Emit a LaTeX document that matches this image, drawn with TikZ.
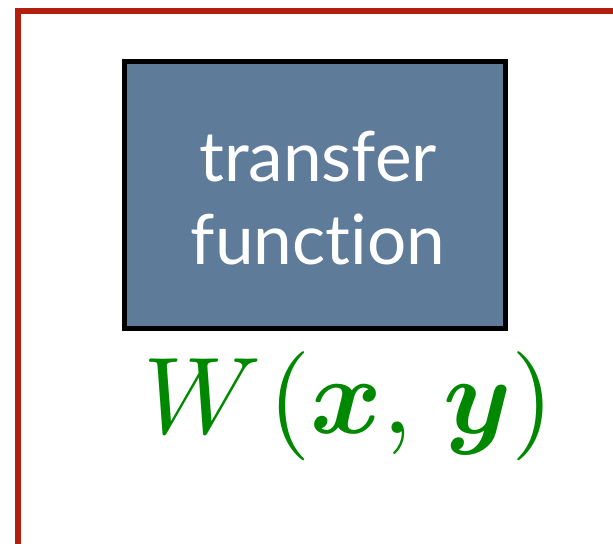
\documentclass[tikz,border=0pt]{standalone}
\usepackage{fontspec}
\usepackage{amsmath}
\usepackage{bm}
\setsansfont[Ligatures={NoCommon,NoRare},Contextuals=NoAlternate]{Lato}
\definecolor{frame}{RGB}{180,30,12}
\definecolor{boxfill}{RGB}{95,123,154}
\definecolor{fgreen}{RGB}{0,136,0}
\begin{document}
\begin{tikzpicture}[x=0.75pt,y=-0.75pt,
  outer/.style={draw=frame,line width=4.5pt},
  tfbox/.style={draw=black,line width=3.75pt,fill=boxfill},
  boxtext/.style={text=white,font=\sffamily\fontsize{52}{62}\selectfont,align=center},
  formula/.style={text=fgreen,inner sep=0pt}]
\useasboundingbox (0,0) rectangle (613,543);
\clip (0,0) rectangle (613,543);
\draw[outer] (18,11) rectangle (660,600);
\node[tfbox,minimum width=381*0.75pt,minimum height=267*0.75pt,inner sep=0pt] (box) at (315,195) {};
\node[boxtext] (label) at (318,198) {transfer\\function};
\node[formula] (w) at (349,406) {\resizebox{410\dimexpr0.75pt\relax}{!}{$W\mkern1mu(\bm{x},\mkern2mu\bm{y})$}};
\end{tikzpicture}
\end{document}
